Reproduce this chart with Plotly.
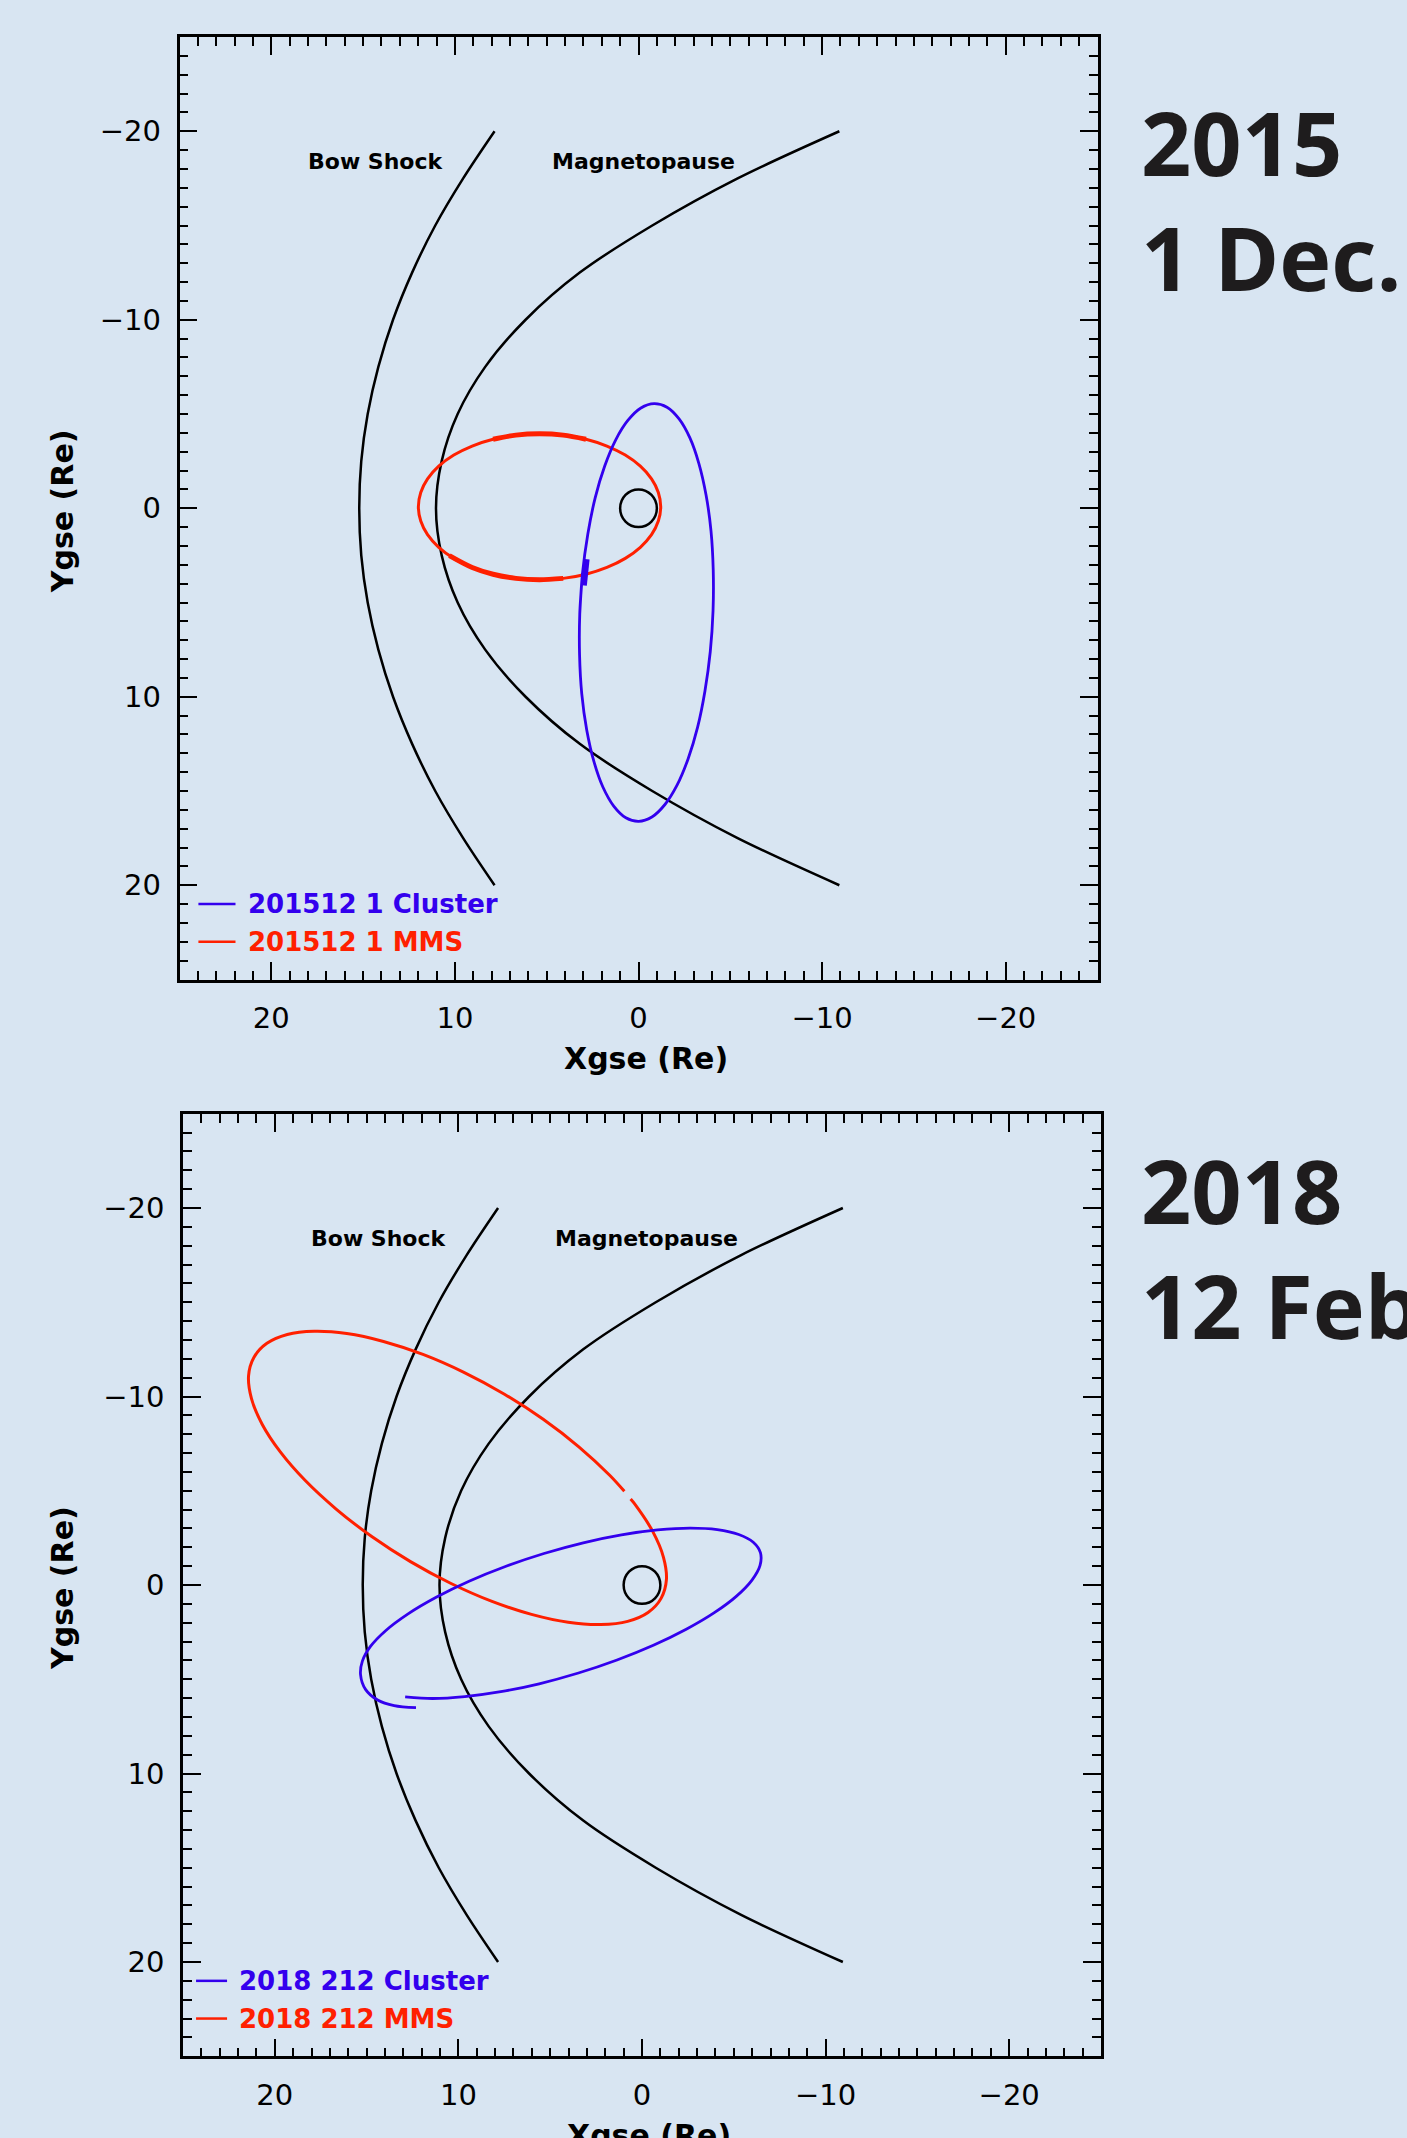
import plotly.graph_objects as go

W, H = 1407, 2138
BG = "#D8E5F2"
BLUE = "#3300EE"
RED = "#FF2000"
INK = "#1E1C1D"

# ---------------- data (GSE, Earth radii) ----------------
BOUNDARY_Y = [-20, -17.5, -15, -12.5, -10, -7.5, -5, -2.5, 0, 2.5, 5, 7.5, 10, 12.5, 15, 17.5, 20]
BOW_SHOCK_X = [7.84, 9.55, 11.07, 12.33, 13.37, 14.17, 14.75, 15.1, 15.21, 15.1, 14.75, 14.17, 13.37, 12.33, 11.07, 9.55, 7.84]
MAGNETOPAUSE_X = [-10.94, -5.4, -0.75, 3.2, 6.15, 8.35, 9.85, 10.72, 11.03, 10.72, 9.85, 8.35, 6.15, 3.2, -0.75, -5.4, -10.94]
EARTH_R = 1.0

# 2015 Dec 1
CLUSTER_2015_X = [3.20, 3.05, 2.76, 2.36, 1.84, 1.24, 0.57, -0.13, -0.85, -1.55, -2.21, -2.80, -3.29, -3.68,
                  -3.95, -4.07, -4.06, -3.91, -3.62, -3.22, -2.70, -2.10, -1.43, -0.73, -0.01, 0.69, 1.35,
                  1.94, 2.43, 2.82, 3.09, 3.21, 3.20, 3.05]
CLUSTER_2015_Y = [5.62, 3.46, 1.37, -0.55, -2.24, -3.63, -4.67, -5.32, -5.55, -5.36, -4.74, -3.73, -2.37, -0.70,
                  1.21, 3.28, 5.44, 7.60, 9.69, 11.61, 13.30, 14.69, 15.73, 16.38, 16.61, 16.42, 15.80,
                  14.79, 13.43, 11.76, 9.85, 7.78, 5.62, 3.46]
CLUSTER_2015_SEG_X = [2.80, 2.95]
CLUSTER_2015_SEG_Y = [2.7, 4.1]
MMS_2015_X = [5.39, 6.68, 7.92, 9.06, 10.06, 10.88, 11.49, 11.86, 11.99, 11.86, 11.49, 10.88, 10.06, 9.06,
              7.92, 6.68, 5.39, 4.10, 2.86, 1.72, 0.72, -0.10, -0.71, -1.08, -1.21, -1.08, -0.71, -0.10,
              0.72, 1.72, 2.86, 4.10, 5.39, 6.68]
MMS_2015_Y = [-3.95, -3.88, -3.66, -3.30, -2.82, -2.23, -1.56, -0.84, -0.08, 0.68, 1.40, 2.07, 2.66, 3.14,
              3.50, 3.72, 3.79, 3.72, 3.50, 3.14, 2.66, 2.07, 1.40, 0.68, -0.08, -0.84, -1.56, -2.23,
              -2.82, -3.30, -3.66, -3.88, -3.95, -3.88]
MMS_2015_SEG1_X = [7.92, 6.68, 5.39, 4.10, 2.86]
MMS_2015_SEG1_Y = [-3.66, -3.88, -3.95, -3.88, -3.66]
MMS_2015_SEG2_X = [10.3, 9.06, 7.92, 6.68, 5.39, 4.10]
MMS_2015_SEG2_Y = [2.51, 3.14, 3.50, 3.72, 3.79, 3.72]

# 2018 Feb 12
CLUSTER_2018_X = [12.90, 11.41, 9.65, 7.69, 5.60, 3.46, 1.36, -0.62, -2.41, -3.94, -5.15, -5.99, -6.43, -6.45,
                  -6.06, -5.27, -4.10, -2.61, -0.85, 1.12, 3.20, 5.34, 7.44, 9.42, 11.21, 12.74, 13.95,
                  14.79, 15.23, 15.33, 15.05, 14.40, 13.50, 12.31]
CLUSTER_2018_Y = [5.94, 6.02, 5.92, 5.66, 5.24, 4.67, 3.98, 3.20, 2.35, 1.47, 0.59, -0.26, -1.04, -1.72,
                  -2.27, -2.68, -2.94, -3.02, -2.92, -2.66, -2.24, -1.67, -0.98, -0.20, 0.65, 1.53, 2.41,
                  3.26, 4.04, 4.75, 5.55, 6.10, 6.40, 6.51]
MMS_2018_X = [0.96, 1.76, 3.44, 5.38, 7.49, 9.70, 11.93, 14.08, 16.08, 17.85, 19.32, 20.43, 21.14, 21.43,
              21.27, 20.69, 19.70, 18.34, 16.66, 14.72, 12.61, 10.40, 8.17, 6.02, 4.02, 2.25, 0.78, -0.33,
              -1.04, -1.33, -1.17, -0.59, 0.40, 0.62]
MMS_2018_Y = [-4.97, -5.82, -7.33, -8.79, -10.12, -11.28, -12.23, -12.92, -13.34, -13.46, -13.29, -12.82,
              -12.07, -11.09, -9.89, -8.53, -7.06, -5.54, -4.03, -2.57, -1.24, -0.08, 0.87, 1.56, 1.98,
              2.10, 1.93, 1.46, 0.71, -0.28, -1.47, -2.83, -4.30, -4.56]

TICK_VALS = [20, 10, 0, -10, -20]
TICK_TEXT = ["20", "10", "0", "\u221210", "\u221220"]

PANELS = [
    dict(x="x", y="y", xa="xaxis", ya="yaxis",
         px=(179.5, 1097.5), py=(37, 979.5),
         cluster=(CLUSTER_2015_X, CLUSTER_2015_Y), mms=(MMS_2015_X, MMS_2015_Y),
         legend=("201512 1 Cluster", "201512 1 MMS"),
         leg_line=(23.97, 21.95), leg_text_x=21.36,
         title=("2015", "1 Dec."), title_y=(141.7, 256.7)),
    dict(x="x2", y="y2", xa="xaxis2", ya="yaxis2",
         px=(183, 1101), py=(1113.75, 2056.25),
         cluster=(CLUSTER_2018_X, CLUSTER_2018_Y), mms=(MMS_2018_X, MMS_2018_Y),
         legend=("2018 212 Cluster", "2018 212 MMS"),
         leg_line=(24.29, 22.6), leg_text_x=22.06,
         title=("2018", "12 Feb"), title_y=(1190, 1305)),
]

fig = go.Figure()


def line(x, y, color, width, xr, yr):
    fig.add_trace(go.Scatter(x=x, y=y, xaxis=xr, yaxis=yr, mode="lines",
                             line=dict(color=color, width=width, shape="spline", smoothing=0.9),
                             hoverinfo="skip", showlegend=False))


annotations = []
shapes = []

for i, p in enumerate(PANELS):
    xr, yr = p["x"], p["y"]
    line(BOW_SHOCK_X, BOUNDARY_Y, "black", 2.5, xr, yr)
    line(MAGNETOPAUSE_X, BOUNDARY_Y, "black", 2.5, xr, yr)
    line(p["mms"][0], p["mms"][1], RED, 3, xr, yr)
    line(p["cluster"][0], p["cluster"][1], BLUE, 2.8, xr, yr)
    if i == 0:
        line(MMS_2015_SEG1_X, MMS_2015_SEG1_Y, RED, 5, xr, yr)
        line(MMS_2015_SEG2_X, MMS_2015_SEG2_Y, RED, 5, xr, yr)
        line(CLUSTER_2015_SEG_X, CLUSTER_2015_SEG_Y, BLUE, 5, xr, yr)

    shapes.append(dict(type="circle", xref=xr, yref=yr, x0=-EARTH_R, x1=EARTH_R,
                       y0=-EARTH_R, y1=EARTH_R, line=dict(color="black", width=2.5)))

    # boundary labels
    for txt, xv in (("Bow Shock", 14.32), ("Magnetopause", -0.26)):
        annotations.append(dict(text=txt, x=xv, y=-18.37, xref=xr, yref=yr, showarrow=False,
                                xanchor="center", yanchor="middle",
                                font=dict(family="DejaVu Sans", size=22, color="black", weight="bold")))
    # legend
    for (txt, col, yv) in ((p["legend"][0], BLUE, 21.0), (p["legend"][1], RED, 23.0)):
        shapes.append(dict(type="line", xref=xr, yref=yr, x0=p["leg_line"][0], x1=p["leg_line"][1],
                           y0=yv, y1=yv, line=dict(color=col, width=2.5)))
        annotations.append(dict(text=txt, x=p["leg_text_x"], y=yv, xref=xr, yref=yr, showarrow=False,
                                xanchor="left", yanchor="middle",
                                font=dict(family="DejaVu Sans", size=26, color=col, weight="bold")))

    x0, x1 = p["px"]
    y0, y1 = p["py"]
    common = dict(showgrid=False, zeroline=False, showline=True, linecolor="black", linewidth=2.5,
                  mirror="allticks", ticks="inside", ticklen=18, tickwidth=2, tickcolor="black",
                  tickmode="array", tickvals=TICK_VALS, ticktext=TICK_TEXT,
                  tickfont=dict(family="DejaVu Sans", size=29, color="black"),
                  minor=dict(ticks="inside", dtick=1, tick0=0, ticklen=9, tickwidth=2,
                             tickcolor="black", showgrid=False),
                  range=[25, -25], fixedrange=True)
    fig.layout[p["xa"]] = dict(common, domain=[x0 / W, x1 / W], anchor=yr, ticklabelstandoff=11)
    fig.layout[p["ya"]] = dict(common, domain=[1 - y1 / H, 1 - y0 / H], anchor=xr, ticklabelstandoff=10)

    # axis titles
    cx = (x0 + x1) / 2 + 7
    annotations.append(dict(text="Xgse (Re)", x=cx / W, y=1 - (y1 + 79) / H, xref="paper", yref="paper",
                            showarrow=False, xanchor="center", yanchor="middle",
                            font=dict(family="DejaVu Sans", size=30, color="black", weight="bold")))
    annotations.append(dict(text="Ygse (Re)", x=62 / W, y=1 - ((y0 + y1) / 2 + 3) / H, xref="paper",
                            yref="paper", showarrow=False, textangle=-90, xanchor="center",
                            yanchor="middle",
                            font=dict(family="DejaVu Sans", size=30, color="black", weight="bold")))
    # big date text
    for txt, yy in zip(p["title"], p["title_y"]):
        annotations.append(dict(text=txt, x=1139 / W, y=1 - yy / H, xref="paper", yref="paper",
                                showarrow=False, xanchor="left", yanchor="middle",
                                font=dict(family="Open Sans", size=88, color=INK, weight="bold")))

fig.update_layout(width=W, height=H, margin=dict(l=0, r=0, t=0, b=0),
                  paper_bgcolor=BG, plot_bgcolor=BG, showlegend=False,
                  annotations=annotations, shapes=shapes)

fig.write_html("out.html", config={"displayModeBar": False},
               post_script="document.body.style.margin='0';")
